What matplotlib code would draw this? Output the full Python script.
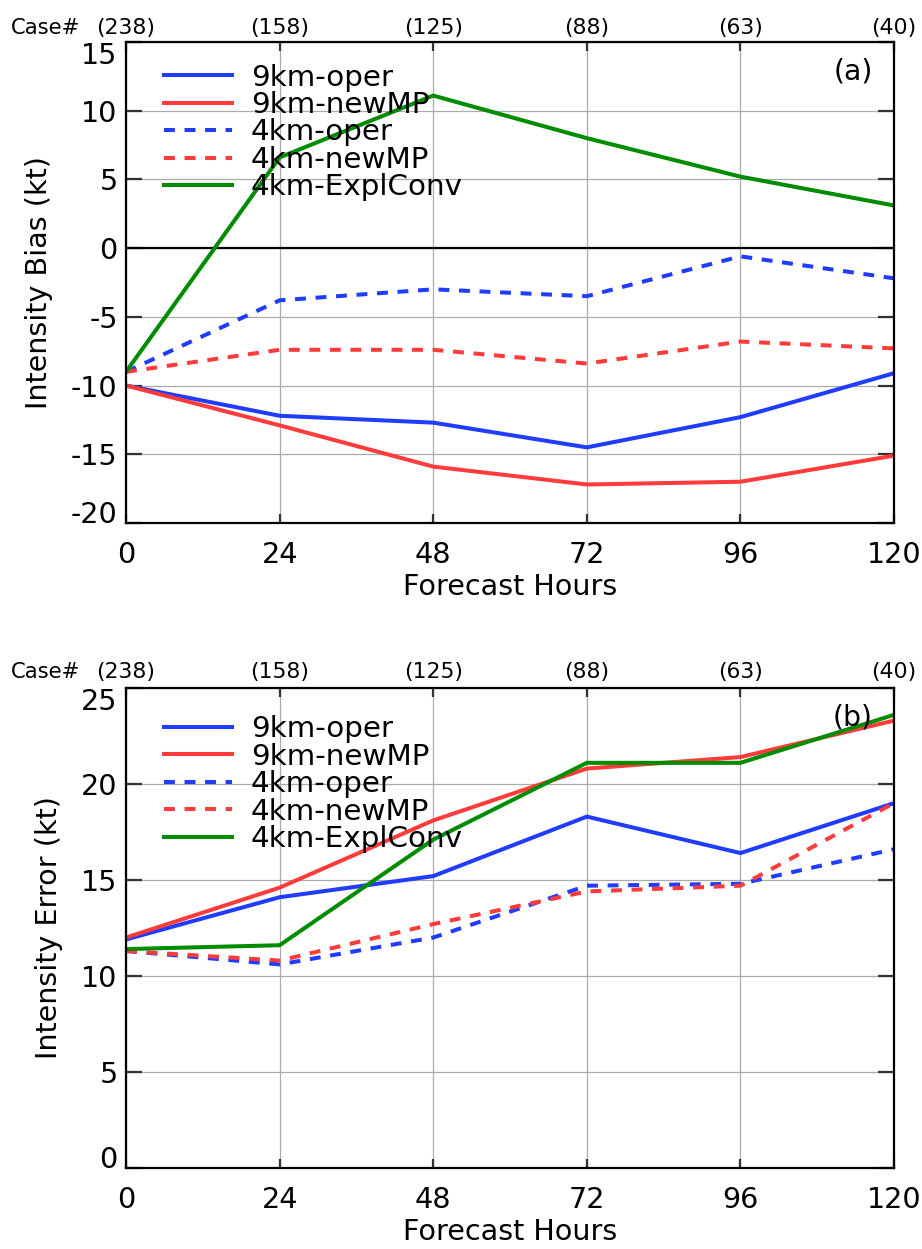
import numpy as np
import matplotlib
matplotlib.use("Agg")
import matplotlib.pyplot as plt
from matplotlib.transforms import blended_transform_factory

matplotlib.rcParams["font.family"] = ["DejaVu Sans"]
matplotlib.rcParams["axes.unicode_minus"] = False

# ── 数据 ─────────────────────────────────────────────
hours      = [0, 24, 48, 72, 96, 120]
case_count = ["(238)", "(158)", "(125)", "(88)", "(63)", "(40)"]
names      = ["9km-oper", "9km-newMP", "4km-oper", "4km-newMP", "4km-ExplConv"]

bias_9km_oper   = [-10.0, -12.2, -12.7, -14.5, -12.3, -9.1]
bias_9km_newmp  = [-10.0, -12.9, -15.9, -17.2, -17.0, -15.1]
bias_4km_oper   = [-9.0, -3.8, -3.0, -3.5, -0.6, -2.2]
bias_4km_newmp  = [-9.0, -7.4, -7.4, -8.4, -6.8, -7.3]
bias_4km_expl   = [-9.0, 6.6, 11.1, 8.0, 5.2, 3.1]

err_9km_oper    = [11.9, 14.1, 15.2, 18.3, 16.4, 19.0]
err_9km_newmp   = [12.0, 14.6, 18.1, 20.8, 21.4, 23.3]
err_4km_oper    = [11.3, 10.6, 12.0, 14.7, 14.8, 16.6]
err_4km_newmp   = [11.3, 10.8, 12.7, 14.4, 14.7, 19.0]
err_4km_expl    = [11.4, 11.6, 17.1, 21.1, 21.1, 23.6]

BLUE  = "#1f3cff"
RED   = "#ff3b3b"
GREEN = "#008c00"
styles = [(BLUE, "-"), (RED, "-"), (BLUE, "--"), (RED, "--"), (GREEN, "-")]

FS      = 20.6   # 刻度 / 轴标题
FS_LEG  = 21.2
FS_CASE = 15.8


def draw_panel(ax, series, ylim, yticks, ylabel, tag, case_dy, leg_y):
    for vals, name, (c, ls) in zip(series, names, styles):
        kw = dict(color=c, linewidth=2.9, label=name, solid_joinstyle="round")
        if ls == "--":
            kw["dashes"] = (2.7, 2.4)
        ax.plot(hours, vals, **kw)

    ax.set_xlim(0, 120)
    ax.set_ylim(*ylim)
    ax.set_xticks(hours)
    ax.set_yticks(yticks)
    ax.grid(True, color="#ababab", linewidth=0.9)
    ax.set_axisbelow(True)
    for sp in ax.spines.values():
        sp.set_linewidth(1.6)
    ax.tick_params(axis="y", direction="in", length=11.3, width=1.6,
                   color="#333333", left=True, right=True, labelsize=FS, pad=6)
    ax.tick_params(axis="x", direction="in", length=6.5, width=1.6,
                   color="#333333", top=True, bottom=True, labelsize=FS, pad=13)
    # 首尾刻度标签收进坐标框内
    yt = ax.yaxis.get_major_ticks()
    yt[0].label1.set_va("baseline")
    yt[-1].label1.set_va("top")

    ax.set_xlabel("Forecast Hours", fontsize=FS, labelpad=3)
    ax.set_ylabel(ylabel, fontsize=FS, labelpad=13)

    trans = blended_transform_factory(ax.transData, ax.transAxes)
    for h, cc in zip(hours, case_count):
        ax.text(h, 1 + case_dy, cc, transform=trans, ha="center", va="center",
                fontsize=FS_CASE, clip_on=False)
    ax.text(-0.1497, 1 + case_dy, "Case#", transform=ax.transAxes,
            ha="left", va="center", fontsize=15.2)
    ax.text(0.9466, 0.938, tag, transform=ax.transAxes, ha="center",
            va="center", fontsize=20.3)

    ax.legend(loc="upper left", bbox_to_anchor=(0.049, leg_y), frameon=False,
              fontsize=FS_LEG, borderpad=0, borderaxespad=0, labelspacing=-0.02,
              handlelength=2.33, handletextpad=0.63)


fig = plt.figure(figsize=(9.22, 12.49), dpi=100)
ax_a = fig.add_axes([0.1367, 0.5813, 0.8330, 0.3851])
ax_b = fig.add_axes([0.1367, 0.0649, 0.8330, 0.3843])

draw_panel(ax_a,
           [bias_9km_oper, bias_9km_newmp, bias_4km_oper, bias_4km_newmp, bias_4km_expl],
           (-20, 15), [-20, -15, -10, -5, 0, 5, 10, 15],
           "Intensity Bias (kt)", "(a)", 0.028, 0.955)
ax_a.axhline(0, color="black", linewidth=1.6, zorder=1.5)

draw_panel(ax_b,
           [err_9km_oper, err_9km_newmp, err_4km_oper, err_4km_newmp, err_4km_expl],
           (0, 25), [0, 5, 10, 15, 20, 25],
           "Intensity Error (kt)", "(b)", 0.034, 0.943)

fig.savefig("out.png", dpi=100)
